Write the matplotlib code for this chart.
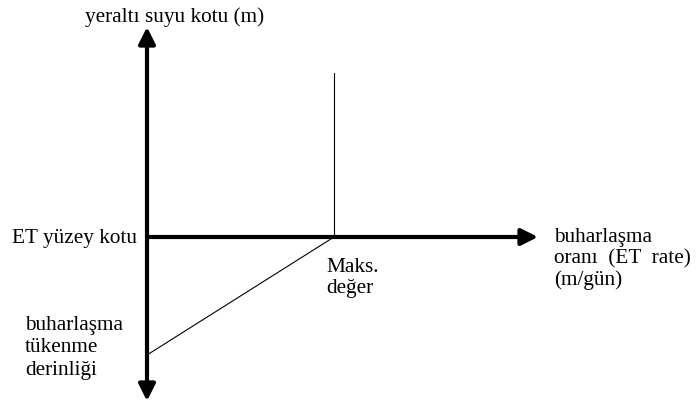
import matplotlib
matplotlib.use("Agg")
import matplotlib.pyplot as plt
from matplotlib.patches import ArrowStyle

plt.rcParams["font.family"] = ["Liberation Serif", "DejaVu Serif"]
fs = 15.3

# diagram geometry, pixel units of the 698x403 picture (y grows downward)
origin = [147, 237]          # ET surface elevation on the vertical axis
top_tip = [147, 27]
bottom_tip = [147, 401]
right_tip = [538, 237]
max_rate = [334, 237]        # maximum ET rate
max_rate_top = [334, 73]
extinction = [147, 355]      # extinction depth

# label lines: text, x, baseline y, horizontal alignment
label_text = ["yeraltı suyu kotu (m)", "ET yüzey kotu",
              "buharlaşma", "oranı  (ET  rate)", "(m/gün)",
              "Maks.", "değer",
              "buharlaşma", "tükenme", "derinliği"]
label_x = [175, 137, 554, 554, 554, 326, 326, 25, 25, 25]
label_y = [22, 243, 242, 263, 285, 272, 293, 330, 352, 375]
label_ha = ["center", "right", "left", "left", "left",
            "left", "left", "left", "left", "left"]

fig = plt.figure(figsize=(6.98, 4.03), dpi=100)
ax = fig.add_axes([0, 0, 1, 1])
ax.set_xlim(0, 698)
ax.set_ylim(403, 0)
ax.axis("off")

head = ArrowStyle("-|>", head_length=1.0, head_width=0.5)
for tip in [top_tip, bottom_tip, right_tip]:
    ax.annotate("", xy=tip, xytext=origin,
                arrowprops=dict(arrowstyle=head, lw=3, color="black",
                                shrinkA=0, shrinkB=0, mutation_scale=10))

ax.plot([max_rate[0], max_rate_top[0]], [max_rate[1], max_rate_top[1]], color="black", lw=0.8)
ax.plot([extinction[0], max_rate[0]], [extinction[1], max_rate[1]], color="black", lw=0.8)

for txt, x, y, ha in zip(label_text, label_x, label_y, label_ha):
    ax.text(x, y, txt, ha=ha, va="baseline", fontsize=fs)

fig.savefig("out.png", dpi=100)
